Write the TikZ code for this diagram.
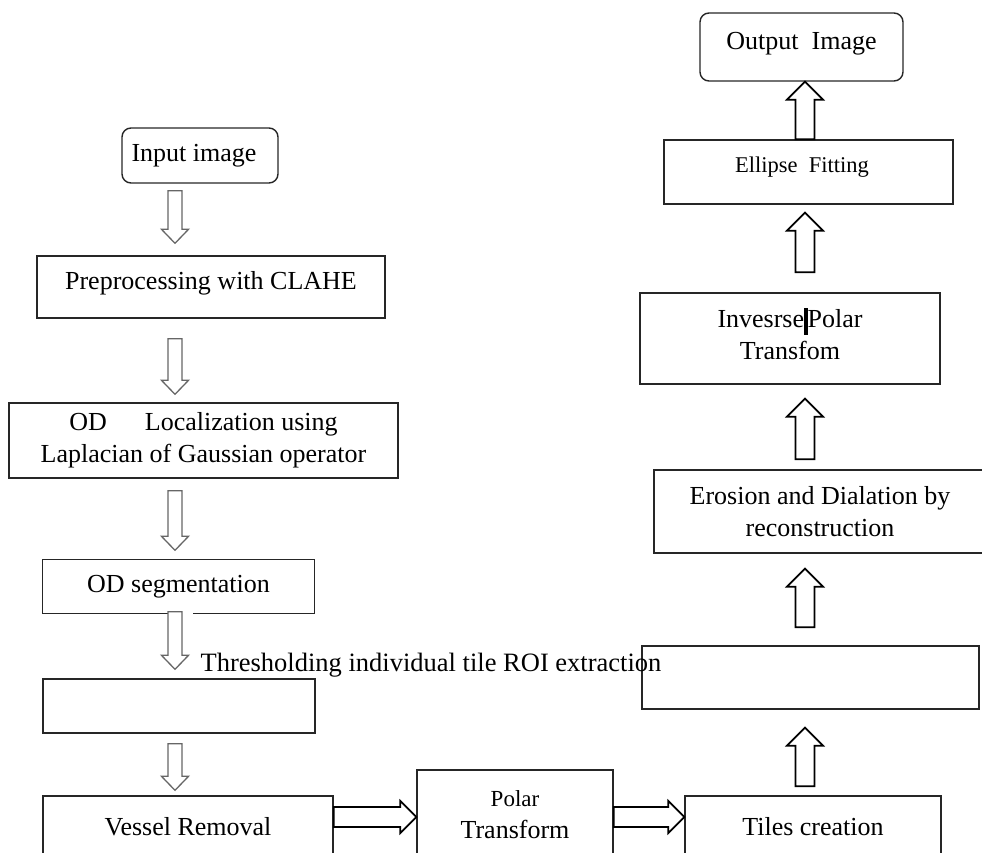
\documentclass[tikz,border=0pt]{standalone}
\usepackage{fontspec}
\setmainfont{Liberation Serif}
\usetikzlibrary{calc}

\tikzset{
  txt/.style={font=\fontsize{26}{32}\selectfont, inner sep=0pt, align=center},
  boxline/.style={draw=black!85, line width=1.4pt},
  box/.style={txt, boxline},
  rbox/.style={box, rounded corners=9pt},
  shaft half/.store in=\shaftHalf, head half/.store in=\headHalf, head len/.store in=\headLen,
  gap start/.store in=\gapStart, gap end/.store in=\gapEnd,
  shaft half=7pt, head half=13.5pt, head len=14pt, gap start=8pt, gap end=8pt,
  hollow/.style={fill=white, draw=black!60, line width=1.3pt, line join=miter,
    to path={
      ($(\tikztostart)!\gapStart!(\tikztotarget)!\shaftHalf!90:(\tikztotarget)$)
      -- ($(\tikztotarget)!\gapEnd+\headLen!(\tikztostart)!\shaftHalf!90:(\tikztotarget)$)
      -- ($(\tikztotarget)!\gapEnd+\headLen!(\tikztostart)!\headHalf!90:(\tikztotarget)$)
      -- ($(\tikztotarget)!\gapEnd!(\tikztostart)$)
      -- ($(\tikztotarget)!\gapEnd+\headLen!(\tikztostart)!\headHalf!-90:(\tikztotarget)$)
      -- ($(\tikztotarget)!\gapEnd+\headLen!(\tikztostart)!\shaftHalf!-90:(\tikztotarget)$)
      -- ($(\tikztostart)!\gapStart!(\tikztotarget)!\shaftHalf!-90:(\tikztotarget)$)
      -- cycle}},
  thick hollow/.style={hollow, draw=black, line width=1.8pt, shaft half=9.5pt, head half=18pt, head len=18pt},
}

\begin{document}
\begin{tikzpicture}[x=1pt, y=-1pt]
	\useasboundingbox (0,0) rectangle (982,852);
	\clip (0,0) rectangle (982,852);
	
	% lanes for the block arrows
	\coordinate (colA) at (175,0);
	\coordinate (colB) at (805,0);
	\coordinate (rowB) at (0,817);
	\coordinate (gapL) at (168,0);
	\coordinate (gapR) at (193,0);
	
	% left column
	\node[rbox, minimum width=156, minimum height=55] (in) at (200,155.5) {Input image\hspace*{12pt}};
	\node[box, minimum width=348, minimum height=62, text depth=14pt] (pre) at (211,287) {Preprocessing with CLAHE};
	\node[box, minimum width=389, minimum height=75] (loc) at (203.5,440.5) {OD\hspace{38pt}Localization using\\Laplacian of Gaussian operator};
	\node[box, draw=none, minimum width=271, minimum height=53] (seg) at (178.5,586.5) {OD segmentation};
	\draw[boxline] (seg.south -| gapL) -- (seg.south west) -- (seg.north west) -- (seg.north east) -- (seg.south east) -- (seg.south -| gapR);
	\node[box, minimum width=272, minimum height=54] (roi) at (179,706) {};
	\node[box, minimum width=290, minimum height=62] (ves) at (188,827) {Vessel Removal};
	
	% bottom row
	\node[box, minimum width=196, minimum height=90] (pol) at (515,815) {{\fontsize{23}{32}\selectfont Polar}\\Transform};
	\node[box, minimum width=256, minimum height=62] (til) at (813,827) {Tiles creation};
	
	% right column
	\node[box, minimum width=337, minimum height=63] (blank) at (810.5,677.5) {};
	\node[box, minimum width=332, minimum height=83] (ero) at (820,511.5) {Erosion and Dialation by\\reconstruction};
	\node[box, minimum width=300, minimum height=91, text depth=10pt] (inv) at (790,338.5) {Invesrse\rule[-7pt]{3.5pt}{27pt}Polar\\Transfom};
	\node[box, minimum width=289, minimum height=64, text depth=15pt, font=\fontsize{22.5}{27}\selectfont] (ell) at (808.5,172) {Ellipse\ \ Fitting\hspace*{13pt}};
	\node[rbox, minimum width=203, minimum height=68, text depth=12pt] (out) at (801.5,47) {Output\ \ Image};
	
	\node[txt, font=\fontsize{26.5}{32}\selectfont] (thr) at (431,665) {Thresholding individual tile ROI extraction};
	
	% down the left side
	\draw[hollow, gap start=7pt, gap end=12pt] (in.south -| colA) to (pre.north -| colA);
	\draw[hollow, gap start=20pt, gap end=8pt] (pre.south -| colA) to (loc.north -| colA);
	\draw[hollow, gap start=12pt, gap end=9pt] (loc.south -| colA) to (seg.north -| colA);
	\draw[hollow, gap start=-2pt, gap end=9pt] (seg.south -| colA) to (roi.north -| colA);
	\draw[hollow, gap start=10pt, gap end=5pt] (roi.south -| colA) to (ves.north -| colA);
	
	% along the bottom
	\draw[thick hollow, shaft half=10pt, head half=16pt, head len=16pt, gap start=0pt, gap end=0pt] (ves.east |- rowB) to (pol.west |- rowB);
	\draw[thick hollow, shaft half=10pt, head half=16pt, head len=16pt, gap start=0pt, gap end=0pt] (pol.east |- rowB) to (til.west |- rowB);
	
	% up the right side
	\draw[thick hollow, gap start=9pt, gap end=18pt] (til.north -| colB) to (blank.south -| colB);
	\draw[thick hollow, gap start=18pt, gap end=15pt] (blank.north -| colB) to (ero.south -| colB);
	\draw[thick hollow, gap start=10pt, gap end=14pt] (ero.north -| colB) to (inv.south -| colB);
	\draw[thick hollow, gap start=20pt, gap end=8pt] (inv.north -| colB) to (ell.south -| colB);
	\draw[thick hollow, gap start=0pt, gap end=0pt] (ell.north -| colB) to (out.south -| colB);
	
\end{tikzpicture}
\end{document}
